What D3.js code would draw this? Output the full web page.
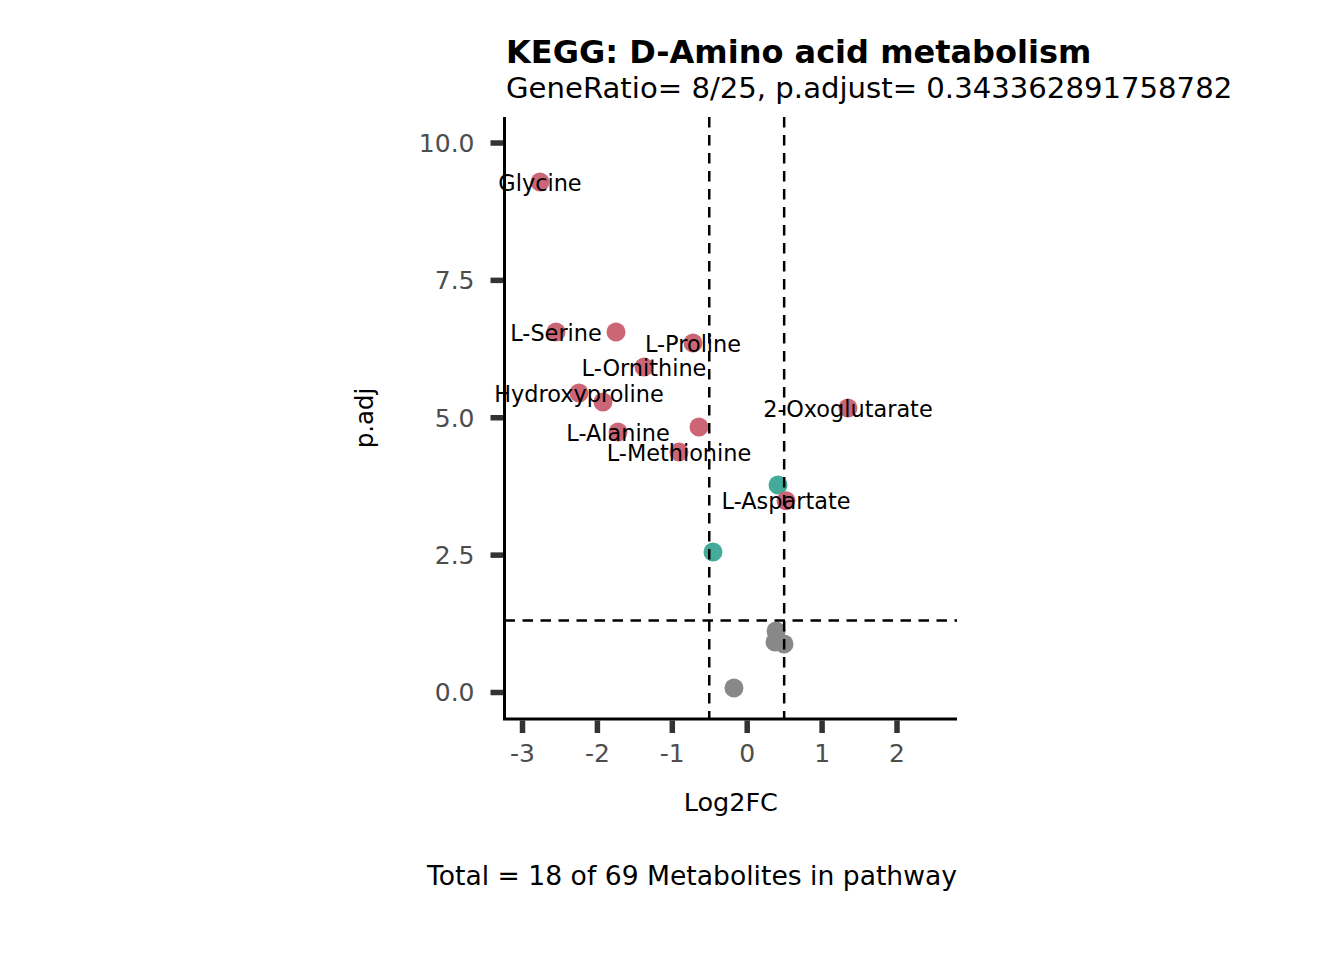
<!DOCTYPE html>
<html>
<head>
<meta charset="utf-8">
<script src="https://cdn.jsdelivr.net/npm/d3@7"></script>
<style>
  html, body { margin: 0; padding: 0; background: #fff; }
  svg { display: block; font-family: "DejaVu Sans", sans-serif; }
</style>
</head>
<body>
<svg id="chart" width="1344" height="960"></svg>
<script>
// ---- data ----
const names = ["Glycine","L-Serine","","L-Proline","L-Ornithine","Hydroxyproline","","L-Alanine","","L-Methionine","2-Oxoglutarate","","","L-Aspartate","","","",""];
const log2fc = [-2.760,-2.546,-1.745,-0.717,-1.371,-2.239,-1.919,-1.718,-0.637,-0.904,1.352,0.418,-0.450,0.525,0.392,0.378,0.498,-0.170];
const padj   = [9.281,6.551,6.551,6.351,5.915,5.441,5.277,4.732,4.823,4.368,5.168,3.767,2.548,3.481,1.110,0.910,0.874,0.073];
const group  = ["up","up","up","up","up","up","up","up","up","up","up","mid","mid","up","ns","ns","ns","ns"];
const xTicks = [-3,-2,-1,0,1,2];
const yTicks = [0,2.5,5,7.5,10];
const fcCut = [-0.5, 0.5];
const pCut = -Math.log10(0.05);
const titleText = "KEGG: D-Amino acid metabolism";
const subtitleText = "GeneRatio= 8/25, p.adjust= 0.343362891758782";
const captionText = "Total = 18 of 69 Metabolites in pathway";
const xLabel = "Log2FC";
const yLabel = "p.adj";

const colors = {up: "#CC6677", mid: "#44AA99", ns: "#888888"};

(function () {
  // ---- layout ----
  const pL = 504.5, pR = 957, pT = 117, pB = 719;
  const x = d3.scaleLinear().domain([-3.2337, 2.8077]).range([pL, pR]);
  const y = d3.scaleLinear().domain([-0.4914, 10.4641]).range([pB, pT]);

  const svg = d3.select("#chart");
  const points = names.map((n,i) => ({name:n, fc:log2fc[i], p:padj[i], g:group[i]}));
  const order = {ns:0, mid:1, up:2};
  const drawPts = points.slice().sort((a,b) => order[a.g]-order[b.g]);

  // points
  svg.append("g").selectAll("circle").data(drawPts).join("circle")
    .attr("cx", d => x(d.fc)).attr("cy", d => y(d.p)).attr("r", 9.5)
    .attr("fill", d => colors[d.g]);

  // threshold lines
  const dash = "10.5,7.5";
  svg.append("g").selectAll("line").data(fcCut).join("line")
    .attr("x1", d => x(d)).attr("x2", d => x(d)).attr("y1", pT).attr("y2", pB)
    .attr("stroke", "#000").attr("stroke-width", 2.5).attr("stroke-dasharray", dash);
  svg.append("line")
    .attr("x1", pL).attr("x2", pR).attr("y1", y(pCut)).attr("y2", y(pCut))
    .attr("stroke", "#000").attr("stroke-width", 2.5).attr("stroke-dasharray", dash);

  // labels (on top)
  svg.append("g").selectAll("text").data(points.filter(d => d.name)).join("text")
    .attr("x", d => x(d.fc)).attr("y", d => y(d.p)).attr("dy", 8.6)
    .attr("text-anchor", "middle").attr("font-size", 22.4).attr("fill", "#000")
    .text(d => d.name);

  // axes
  const xAxis = d3.axisBottom(x).tickValues(xTicks).tickFormat(d => String(d)).tickSize(14).tickPadding(11);
  const yAxis = d3.axisLeft(y).tickValues(yTicks).tickFormat(d => d.toFixed(1)).tickSize(14).tickPadding(16);

  const gx = svg.append("g").attr("transform", `translate(0,${pB})`).call(xAxis);
  const gy = svg.append("g").attr("transform", `translate(${pL},0)`).call(yAxis);
  [gx, gy].forEach(g => {
    g.select(".domain").remove();
    g.selectAll(".tick line").attr("stroke", "#333333").attr("stroke-width", 5.5);
    g.selectAll(".tick text").attr("fill", "#4D4D4D").attr("font-size", 25)
      .attr("font-family", "DejaVu Sans, sans-serif");
  });
  gx.selectAll(".tick line").attr("y1", 1.5);
  gy.selectAll(".tick line").attr("x1", -1.5);
  gx.selectAll(".tick text").attr("dy", "0.71em");
  gy.selectAll(".tick text").attr("dy", "0.36em");

  // axis lines
  svg.append("path")
    .attr("d", `M${pL},${pT}V${pB}H${pR}`)
    .attr("fill", "none").attr("stroke", "#000").attr("stroke-width", 3);

  // titles
  svg.append("text").attr("x", 506).attr("y", 63).attr("font-size", 32).attr("font-weight", "bold")
    .attr("fill", "#000").text(titleText);
  svg.append("text").attr("x", 506).attr("y", 98).attr("font-size", 29.15).attr("fill", "#000").text(subtitleText);
  svg.append("text").attr("x", (pL+pR)/2).attr("y", 811).attr("text-anchor", "middle")
    .attr("font-size", 25.5).attr("fill", "#000").text(xLabel);
  svg.append("text").attr("transform", `translate(373,${(pT+pB)/2}) rotate(-90)`)
    .attr("text-anchor", "middle").attr("font-size", 24.5).attr("fill", "#000").text(yLabel);
  svg.append("text").attr("x", pR).attr("y", 885).attr("text-anchor", "end")
    .attr("font-size", 26.6).attr("fill", "#000").text(captionText);
})();
</script>
</body>
</html>
